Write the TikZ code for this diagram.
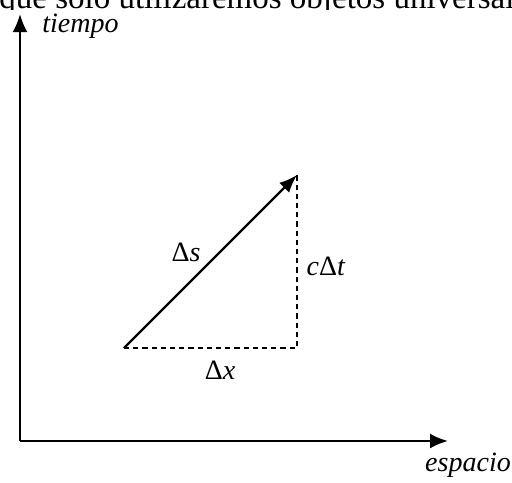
\documentclass[tikz,border=0pt]{standalone}
\usepackage{fontspec}
\setmainfont{Liberation Serif}
\usetikzlibrary{arrows.meta}

\tikzset{
  axis/.style={line width=1.2pt, -{Latex[length=9pt, width=7.5pt]}},
  vec/.style={line width=1.1pt, -{Latex[length=9pt, width=7pt]}},
  dotline/.style={line width=1.1pt, dash pattern=on 2.6pt off 2pt},
  lbl/.style={font=\fontsize{14}{16}\selectfont\itshape, inner sep=1pt},
  mlbl/.style={font=\fontsize{14}{16}\selectfont, inner sep=1pt}
}

\begin{document}
\begin{tikzpicture}[x=0.5pt, y=-0.5pt]
\useasboundingbox (0,0) rectangle (512,482);
\clip (0,0) rectangle (512,482);

% line of text cut off above the figure
\begin{scope}
\clip (0,0) rectangle (512,9);
\node[anchor=base west, inner sep=0, font=\fontsize{16.5}{19}\selectfont] (caption) at (-1,8)
  {que sólo utilizaremos objetos universales};
\end{scope}

% axes
\coordinate (O) at (20,441);
\coordinate (tY) at (20,14);
\coordinate (tX) at (448,441);
\draw[axis] (O) -- (tY);
\draw[axis] (O) -- (tX);
\node[lbl, anchor=west] (tiempo) at (40,26) {tiempo};
\node[lbl] (espacio) at (468,465) {espacio};

% displacement triangle
\coordinate (A) at (124,348);
\coordinate (B) at (297,175);
\coordinate (C) at (297,348);
\draw[vec] (A) -- (B);
\draw[dotline] (A) -- (C) -- (B);
\node[mlbl] (ds) at (186,252) {Δ\textit{s}};
\node[mlbl] (cdt) at (326,266) {\textit{c}Δ\textit{t}};
\node[mlbl] (dx) at (220,370) {Δ\textit{x}};
\end{tikzpicture}
\end{document}
